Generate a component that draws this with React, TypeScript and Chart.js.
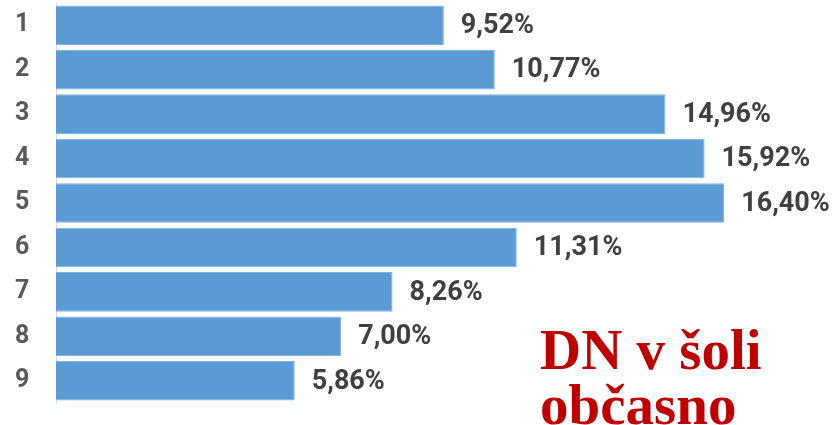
import React, { useEffect, useRef } from "react";
import { Chart, registerables } from "chart.js";

Chart.register(...registerables);

const categories = ["1", "2", "3", "4", "5", "6", "7", "8", "9"];
const values = [9.52, 10.77, 14.96, 15.92, 16.4, 11.31, 8.26, 7.0, 5.86];
const valueLabels = ["9,52%", "10,77%", "14,96%", "15,92%", "16,40%", "11,31%", "8,26%", "7,00%", "5,86%"];
const titleLines = ["DN v šoli", "občasno"];

const labelFont = "'Roboto', sans-serif";

const valueLabelPlugin = {
  id: "valueLabels",
  afterDatasetsDraw(chart: any) {
    const ctx = chart.ctx;
    const meta = chart.getDatasetMeta(0);
    ctx.save();
    ctx.font = `bold 27px ${labelFont}`;
    ctx.fillStyle = "#404040";
    ctx.textAlign = "left";
    ctx.textBaseline = "middle";
    meta.data.forEach((bar: any, i: number) => {
      ctx.fillText(valueLabels[i], bar.x + 17, bar.y + 1);
    });
    ctx.restore();
  },
};

export default function App() {
  const ref = useRef<HTMLCanvasElement | null>(null);

  useEffect(() => {
    document.body.style.margin = "0";
    if (!ref.current) return;
    const chart = new Chart(ref.current, {
      type: "bar",
      data: {
        labels: categories,
        datasets: [
          {
            data: values,
            backgroundColor: "#5B9BD5",
            borderColor: "#7FB0DE",
            borderWidth: 1,
            barPercentage: 0.89,
            categoryPercentage: 1,
          },
        ],
      },
      options: {
        indexAxis: "y",
        animation: false,
        responsive: false,
        maintainAspectRatio: false,
        layout: { padding: { top: 3, bottom: 22, left: 15, right: 0 } },
        plugins: { legend: { display: false }, tooltip: { enabled: false } },
        scales: {
          x: { display: false, min: 0, max: 19.17 },
          y: {
            grid: { display: false, drawTicks: false },
            border: { display: true, color: "#D9D9D9", width: 1 },
            ticks: {
              color: "#595959",
              font: { family: labelFont, size: 25, weight: "bold" },
              padding: 0,
              crossAlign: "far",
            },
            afterFit(scale: any) {
              scale.width = 41;
              scale.paddingTop = 0;
              scale.paddingBottom = 0;
            },
          },
        },
      },
      plugins: [valueLabelPlugin],
    });
    return () => chart.destroy();
  }, []);

  return (
    <div style={{ position: "relative", width: 837, height: 425 }}>
      <canvas ref={ref} width={837} height={425} style={{ display: "block" }} />
      <div
        style={{
          position: "absolute",
          left: 540,
          top: 322,
          color: "#C00000",
          fontFamily: "'Liberation Serif', serif",
          fontWeight: "bold",
          fontSize: 57,
          lineHeight: "55px",
          whiteSpace: "nowrap",
        }}
      >
        {titleLines.map((t) => (
          <div key={t}>{t}</div>
        ))}
      </div>
    </div>
  );
}
